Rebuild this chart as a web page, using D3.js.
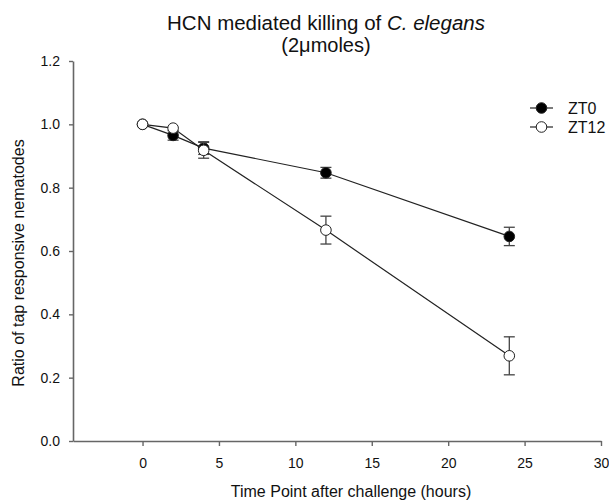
<!DOCTYPE html>
<html>
<head>
<meta charset="utf-8">
<script src="https://cdn.jsdelivr.net/npm/d3@7"></script>
<style>
  body { margin: 0; background: #fff; }
  text { font-family: "Liberation Sans", Arial, sans-serif; fill: #111; }
</style>
</head>
<body>
<svg id="chart"></svg>
<script>
const WIDTH = 609;
const HEIGHT = 502;
const MARGIN = { top: 61, right: 8, bottom: 62, left: 73 };

const hours = [0, 2, 4, 12, 24];
const zt0Values = [1.0, 0.965, 0.925, 0.847, 0.646];
const zt0Errors = [0, 0.015, 0.02, 0.017, 0.029];
const zt12Values = [1.0, 0.988, 0.918, 0.666, 0.269];
const zt12Errors = [0, 0, 0.025, 0.044, 0.06];
const xTicks = [0, 5, 10, 15, 20, 25, 30];
const yTicks = [0, 0.2, 0.4, 0.6, 0.8, 1.0, 1.2];

const series = [
  { name: "ZT0", fill: "#000", values: zt0Values, errors: zt0Errors },
  { name: "ZT12", fill: "#fff", values: zt12Values, errors: zt12Errors },
];

const svg = d3.select("#chart").attr("width", WIDTH).attr("height", HEIGHT);

const x = d3.scaleLinear().domain([-4.55, 30]).range([MARGIN.left, WIDTH - MARGIN.right]);
const y = d3.scaleLinear().domain([0, 1.2]).range([HEIGHT - MARGIN.bottom + 1, MARGIN.top]);

// axes
const xAxis = svg
  .append("g")
  .attr("transform", `translate(0,${y(0)})`)
  .call(d3.axisBottom(x).tickValues(xTicks).tickSize(5).tickPadding(12).tickSizeOuter(0));

const yAxis = svg
  .append("g")
  .attr("transform", `translate(${x(-4.55)},0)`)
  .call(
    d3.axisLeft(y).tickValues(yTicks).tickFormat(d3.format(".1f")).tickSize(4).tickPadding(9).tickSizeOuter(0)
  );

[xAxis, yAxis].forEach((g) => {
  g.select(".domain").attr("stroke", "#666").attr("stroke-width", 1.6);
  g.selectAll(".tick line").attr("stroke", "#666").attr("stroke-width", 1.4);
  g.selectAll(".tick text").attr("font-size", 14).attr("fill", "#222").attr("font-family", "Liberation Sans, Arial, sans-serif");
});

// title
const title = svg.append("text").attr("x", 326).attr("y", 30).attr("text-anchor", "middle").attr("font-size", 20.5);
title.append("tspan").text("HCN mediated killing of ");
title.append("tspan").attr("font-style", "italic").text("C. elegans");
svg.append("text").attr("x", 326).attr("y", 52).attr("text-anchor", "middle").attr("font-size", 20).text("(2\u03bcmoles)");

// axis titles
svg
  .append("text")
  .attr("transform", `translate(24,${(y(0) + y(1.2)) / 2 + 12}) rotate(-90)`)
  .attr("text-anchor", "middle")
  .attr("font-size", 16)
  .text("Ratio of tap responsive nematodes");

svg
  .append("text")
  .attr("x", 351)
  .attr("y", 497)
  .attr("text-anchor", "middle")
  .attr("font-size", 16)
  .text("Time Point after challenge (hours)");

const line = d3
  .line()
  .x((d) => x(d.h))
  .y((d) => y(d.v));

series.forEach((s) => {
  const pts = hours.map((h, i) => ({ h, v: s.values[i], e: s.errors[i] }));
  const g = svg.append("g");

  g.append("path").datum(pts).attr("d", line).attr("fill", "none").attr("stroke", "#222").attr("stroke-width", 1.2);

  const err = g.selectAll(".err").data(pts.filter((d) => d.e > 0)).enter().append("g").attr("stroke", "#444").attr("stroke-width", 1.3);
  err.append("line").attr("x1", (d) => x(d.h)).attr("x2", (d) => x(d.h)).attr("y1", (d) => y(d.v - d.e)).attr("y2", (d) => y(d.v + d.e));
  err.append("line").attr("x1", (d) => x(d.h) - 5.5).attr("x2", (d) => x(d.h) + 5.5).attr("y1", (d) => y(d.v + d.e)).attr("y2", (d) => y(d.v + d.e));
  err.append("line").attr("x1", (d) => x(d.h) - 5.5).attr("x2", (d) => x(d.h) + 5.5).attr("y1", (d) => y(d.v - d.e)).attr("y2", (d) => y(d.v - d.e));

  g.selectAll("circle")
    .data(pts)
    .enter()
    .append("circle")
    .attr("cx", (d) => x(d.h))
    .attr("cy", (d) => y(d.v))
    .attr("r", 5.3)
    .attr("fill", s.fill)
    .attr("stroke", "#222")
    .attr("stroke-width", 1);
});

// legend
const legend = svg.append("g").attr("transform", "translate(530,108)");
series.forEach((s, i) => {
  const row = legend.append("g").attr("transform", `translate(0,${i * 19})`);
  row.append("line").attr("x1", 0).attr("x2", 23).attr("stroke", "#222").attr("stroke-width", 1.2);
  row.append("circle").attr("cx", 11.5).attr("r", 5.3).attr("fill", s.fill).attr("stroke", "#222");
  row.append("text").attr("x", 38).attr("y", 5.5).attr("font-size", 16).text(s.name);
});
</script>
</body>
</html>
